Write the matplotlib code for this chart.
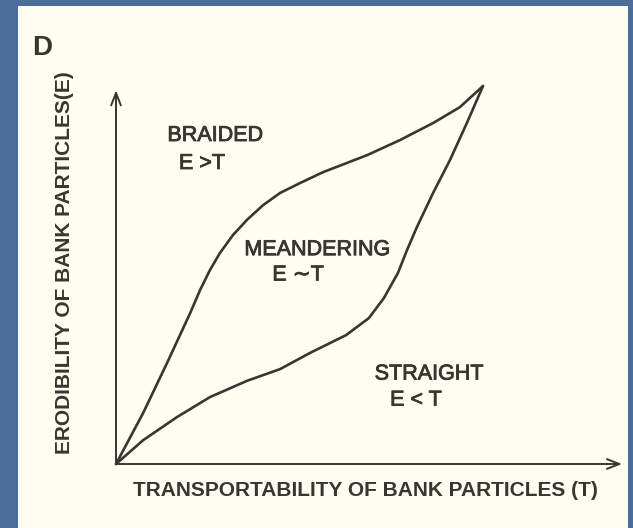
import matplotlib.pyplot as plt
import matplotlib.patheffects as pe

# boundary curves (T on x, E on y, both 0..1)
braided_T = [0, 0.074, 0.139, 0.202, 0.229, 0.256, 0.283, 0.319, 0.357, 0.401,
             0.447, 0.501, 0.564, 0.684, 0.774, 0.864, 0.937, 1.0]
braided_E = [0, 0.135, 0.267, 0.399, 0.460, 0.513, 0.558, 0.606, 0.646, 0.685,
             0.717, 0.743, 0.772, 0.817, 0.857, 0.902, 0.944, 1.0]

straight_T = [0, 0.074, 0.166, 0.256, 0.357, 0.447, 0.529, 0.627, 0.689,
              0.730, 0.768, 0.793, 0.820, 0.864, 0.910, 0.956, 1.0]
straight_E = [0, 0.063, 0.124, 0.177, 0.220, 0.251, 0.294, 0.341, 0.386,
              0.439, 0.505, 0.566, 0.627, 0.717, 0.804, 0.902, 1.0]

regions = ["BRAIDED", "MEANDERING", "STRAIGHT"]
relations = ["E >T", "E \u223cT", "E < T"]

ink = "#3b3531"
paper = "#fefdf1"
slide = "#4b6d9c"

fig = plt.figure(figsize=(6.33, 5.28), dpi=100, facecolor=slide)

# the scanned page sitting on the slide
bg = fig.add_axes([18 / 633, 0, 610 / 633, 522 / 528])
bg.set_facecolor(paper)
bg.set_xticks([])
bg.set_yticks([])
for s in bg.spines.values():
    s.set_visible(False)

# axes box spans origin -> meeting point of the two curves
ax = fig.add_axes([116 / 633, 64 / 528, 367 / 633, 378 / 528])
ax.set_xlim(0, 1)
ax.set_ylim(0, 1)
ax.axis("off")

ax.plot(braided_T, braided_E, color=ink, lw=1.9, solid_joinstyle="round",
        solid_capstyle="round", clip_on=False)
ax.plot(straight_T, straight_E, color=ink, lw=1.9, solid_joinstyle="round",
        solid_capstyle="round", clip_on=False)

arrow = dict(arrowstyle="->,head_length=0.9,head_width=0.35", lw=1.4,
             color=ink, shrinkA=0, shrinkB=0)
ax.annotate("", xy=(1.379, 0), xytext=(0, 0), arrowprops=arrow,
            annotation_clip=False)
ax.annotate("", xy=(0, 0.989), xytext=(0, 0), arrowprops=arrow,
            annotation_clip=False)

fam = ["Liberation Sans", "DejaVu Sans"]
soft = [pe.withStroke(linewidth=0.6, foreground=ink)]

name_pos = [(0.270, 0.869), (0.548, 0.567), (0.853, 0.238)]
rel_pos = [(0.234, 0.795), (0.496, 0.500), (0.817, 0.169)]
for name, rel, p, q in zip(regions, relations, name_pos, rel_pos):
    ax.text(p[0], p[1], name, family=fam, fontsize=15.5, color=ink,
            ha="center", va="center", path_effects=soft, clip_on=False)
    ax.text(q[0], q[1], rel, family=fam, fontsize=15.5, color=ink,
            ha="center", va="center", path_effects=soft, clip_on=False)

ax.text(0.681, -0.071, "TRANSPORTABILITY OF BANK PARTICLES (T)", family=fam,
        fontsize=15, fontweight="bold", color=ink, ha="center", va="center",
        clip_on=False)
ax.text(-0.139, 0.532, "ERODIBILITY OF BANK PARTICLES(E)", family=fam,
        fontsize=15, fontweight="bold", color=ink, ha="center", va="center",
        rotation=90, clip_on=False)
ax.text(-0.200, 1.101, "D", family=fam, fontsize=20, fontweight="bold",
        color=ink, ha="center", va="center", clip_on=False)

plt.savefig("out.png", dpi=100, facecolor=slide)
